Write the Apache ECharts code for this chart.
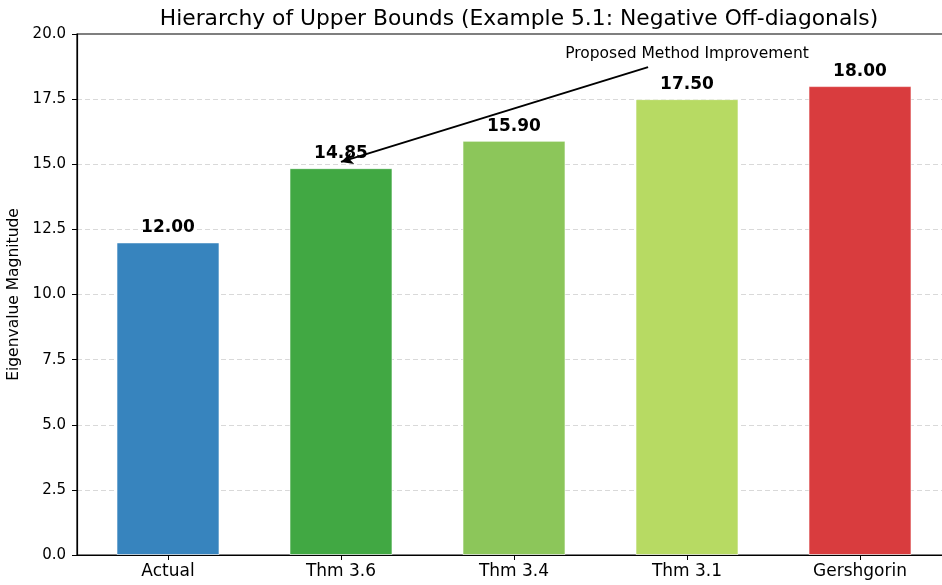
<!DOCTYPE html>
<html><head><meta charset="utf-8">
<script src="https://cdn.jsdelivr.net/npm/echarts@6/dist/echarts.min.js"></script>
<style>html,body{margin:0;padding:0;background:#fff}#c{width:942px;height:585px}</style>
</head><body><div id="c"></div>
<script>
const categories = ['Actual', 'Thm 3.6', 'Thm 3.4', 'Thm 3.1', 'Gershgorin'];
const values = [12.00, 14.85, 15.90, 17.50, 18.00];
const barColors = ['#3784be', '#41a843', '#8cc65a', '#b7da63', '#d93c3e'];
const yTicks = [0, 2.5, 5, 7.5, 10, 12.5, 15, 17.5, 20];
const annotationText = 'Proposed Method Improvement';
const annotationTextPos = [3.0, 19.25];
const arrowStart = [2.775, 18.73];
const arrowEnd = [1.0, 15.09];

const F = 'DejaVu Sans';
const chart = echarts.init(document.getElementById('c'), null, {renderer: 'canvas'});
const data = values.map((v, i) => ({value: [i, v], itemStyle: {color: barColors[i]}}));
chart.setOption({
  animation: false,
  title: {text: 'Hierarchy of Upper Bounds (Example 5.1: Negative Off-diagonals)', left: 514, top: 3, textAlign: 'center',
    textStyle: {fontFamily: F, fontSize: 21.8, fontWeight: 'normal', color: '#000'}},
  grid: {left: 77, top: 34, width: 874, height: 521, show: true, borderColor: '#000', borderWidth: 1.2,
    backgroundColor: 'transparent', outerBoundsMode: 'none', containLabel: false},
  xAxis: {type: 'value', min: -0.526, max: 4.526,
    splitLine: {show: false},
    axisLine: {show: true, onZero: false, lineStyle: {color: '#000', width: 1.2}},
    axisTick: {show: true, customValues: [0,1,2,3,4], length: 5, lineStyle: {color: '#000'}},
    axisLabel: {customValues: [0,1,2,3,4], formatter: v => categories[Math.round(v)], fontFamily: F, fontSize: 17, color: '#000', margin: 8}
  },
  yAxis: {type: 'value', min: 0, max: 20, interval: 2.5,
    name: 'Eigenvalue Magnitude', nameLocation: 'middle', nameGap: 55, nameRotate: 90,
    nameTextStyle: {fontFamily: F, fontSize: 15.5, color: '#000'},
    axisLine: {show: true, onZero: false, lineStyle: {color: '#000', width: 1.2}},
    axisTick: {show: true, length: 5, lineStyle: {color: '#000'}},
    axisLabel: {formatter: v => v.toFixed(1), fontFamily: F, fontSize: 15, color: '#000', margin: 11},
    splitLine: {show: true, showMinLine: false, showMaxLine: false, lineStyle: {color: '#d9d9d9', type: [5, 3], width: 1}}
  },
  series: [{
    type: 'bar', data: data, barWidth: 103,
    itemStyle: {borderColor: 'rgba(255,255,255,0.6)', borderWidth: 1},
    label: {show: true, position: 'top', distance: 6, formatter: p => p.value[1].toFixed(2),
      fontFamily: F, fontSize: 17, fontWeight: 'bold', color: '#000'},
    markLine: {silent: true, symbol: ['none', 'arrow'], symbolSize: [9, 12],
      lineStyle: {color: '#000', width: 2, type: 'solid'}, label: {show: false},
      data: [[{coord: arrowStart}, {coord: arrowEnd}]]},
    markPoint: {silent: true, symbol: 'circle', symbolSize: 0,
      label: {show: true, position: 'inside', formatter: annotationText, fontFamily: F, fontSize: 15.5, color: '#000'},
      data: [{coord: annotationTextPos}]}
  }]
});
</script></body></html>
